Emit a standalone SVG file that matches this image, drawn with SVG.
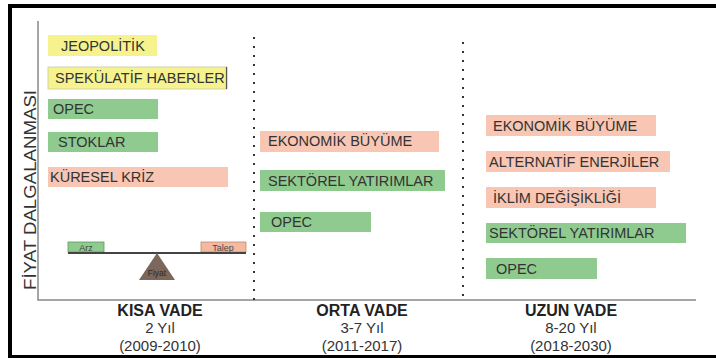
<svg xmlns="http://www.w3.org/2000/svg" width="716" height="358" viewBox="0 0 716 358">
<style>
.t{font-family:"Liberation Sans",Arial,sans-serif;font-size:14.5px;fill:#333}
.y{fill:#f6f38e}
.g{fill:#8fcb8f}
.s{fill:#f8c6b3}
.h{font-family:"Liberation Sans",Arial,sans-serif;font-size:16px;font-weight:bold;fill:#222;text-anchor:middle}
.r{font-family:"Liberation Sans",Arial,sans-serif;font-size:15px;fill:#333;text-anchor:middle}
.dot{stroke:#333;stroke-width:2;stroke-dasharray:2 7}
.axis{stroke:#888;stroke-width:1.5;fill:none}
</style>
<rect width="716" height="358" fill="#fff"/>
<g id="frame">
<rect x="8" y="4" width="708" height="4" fill="#000"/>
<rect x="8" y="4" width="4" height="354" fill="#000"/>
<rect x="8" y="355" width="708" height="3" fill="#000"/>
</g>
<g id="axes">
<polyline class="axis" points="38,21 38,300 696,300"/>
<text transform="translate(36,190) rotate(-90)" font-family="Liberation Sans,Arial,sans-serif" font-size="16.5" fill="#333" text-anchor="middle" textLength="200" lengthAdjust="spacingAndGlyphs">FİYAT DALGALANMASI</text>
</g>
<g id="connectors">
<line class="dot" x1="254" y1="37" x2="254" y2="300"/>
<line class="dot" x1="463" y1="42" x2="463" y2="300"/>
</g>
<g id="k-jeopolitik"><rect class="y" x="48" y="35" width="109" height="21"/><text class="t" x="61" y="51">JEOPOLİTİK</text></g>
<g id="k-spekulatif"><rect class="y" x="48" y="67" width="179" height="22" stroke="#c8c8a0" stroke-width="0.8"/><line x1="226.5" y1="67" x2="226.5" y2="89" stroke="#555" stroke-width="1.2"/><text class="t" x="55" y="83">SPEKÜLATİF HABERLER</text></g>
<g id="k-opec"><rect class="g" x="48" y="99" width="110" height="20"/><text class="t" x="53" y="114">OPEC</text></g>
<g id="k-stoklar"><rect class="g" x="48" y="132" width="110" height="20"/><text class="t" x="58" y="147">STOKLAR</text></g>
<g id="k-kriz"><rect class="s" x="48" y="167" width="180" height="20"/><text class="t" x="50" y="182">KÜRESEL KRİZ</text></g>
<g id="balance">
<rect x="68" y="242" width="36" height="10" fill="#8fcb8f" stroke="#5e9a5e" stroke-width="0.8"/>
<text x="86" y="250.5" font-family="Liberation Sans,Arial,sans-serif" font-size="9" fill="#444" text-anchor="middle">Arz</text>
<rect x="201" y="242" width="45" height="10" fill="#f5b9a2" stroke="#b98a74" stroke-width="0.8"/>
<text x="223" y="250.5" font-family="Liberation Sans,Arial,sans-serif" font-size="9" fill="#444" text-anchor="middle">Talep</text>
<line x1="68" y1="253" x2="246" y2="253" stroke="#444" stroke-width="2"/>
<polygon points="157,253 139,280 175,280" fill="#7b675b"/>
<text x="157" y="276" font-family="Liberation Sans,Arial,sans-serif" font-size="8.5" fill="#2a2a2a" text-anchor="middle">Fiyat</text>
</g>
<g id="o-ekonomik"><rect class="s" x="260" y="131" width="179" height="21"/><text class="t" x="268" y="146">EKONOMİK BÜYÜME</text></g>
<g id="o-sektorel"><rect class="g" x="260" y="170" width="185" height="21"/><text class="t" x="268" y="186">SEKTÖREL YATIRIMLAR</text></g>
<g id="o-opec"><rect class="g" x="260" y="212" width="111" height="20"/><text class="t" x="271" y="227">OPEC</text></g>
<g id="u-ekonomik"><rect class="s" x="486" y="115" width="170" height="21"/><text class="t" x="493" y="131">EKONOMİK BÜYÜME</text></g>
<g id="u-alternatif"><rect class="s" x="486" y="151" width="184" height="21"/><text class="t" x="489" y="167">ALTERNATİF ENERJİLER</text></g>
<g id="u-iklim"><rect class="s" x="486" y="187" width="170" height="21"/><text class="t" x="493" y="203">İKLİM DEĞİŞİKLİĞİ</text></g>
<g id="u-sektorel"><rect class="g" x="486" y="223" width="200" height="20"/><text class="t" x="489" y="238">SEKTÖREL YATIRIMLAR</text></g>
<g id="u-opec"><rect class="g" x="486" y="258" width="111" height="21"/><text class="t" x="496" y="274">OPEC</text></g>
<g id="labels">
<text class="h" x="160" y="316">KISA VADE</text>
<text class="r" x="160" y="333">2 Yıl</text>
<text class="r" x="160" y="351">(2009-2010)</text>
<text class="h" x="362" y="316">ORTA VADE</text>
<text class="r" x="362" y="333">3-7 Yıl</text>
<text class="r" x="362" y="351">(2011-2017)</text>
<text class="h" x="571" y="316">UZUN VADE</text>
<text class="r" x="571" y="333">8-20 Yıl</text>
<text class="r" x="571" y="351">(2018-2030)</text>
</g>
</svg>
